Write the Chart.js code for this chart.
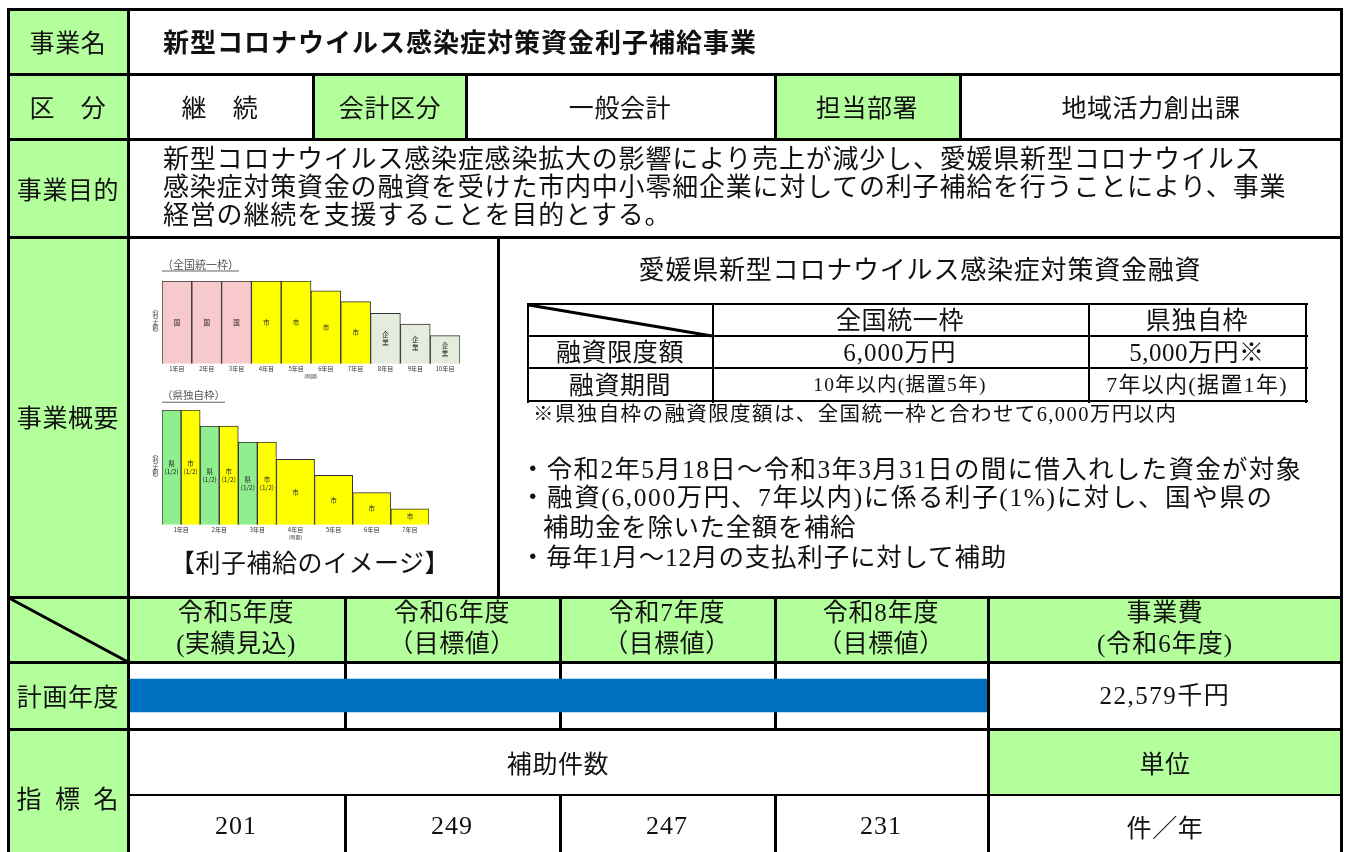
<!DOCTYPE html>
<html lang="ja">
<head>
<meta charset="utf-8">
<script src="https://cdn.jsdelivr.net/npm/chart.js@4.4.1/dist/chart.umd.min.js"></script>
<style>
html,body{margin:0;padding:0;background:#fff;}
#page{position:relative;width:1345px;height:852px;overflow:hidden;background:#fff;
  font-family:"Liberation Serif","Noto Sans CJK JP",serif;color:#111;}
.box{position:absolute;z-index:1;}
.t{position:absolute;white-space:nowrap;line-height:1;z-index:6;}
.c{transform:translate(-50%,-50%);}
.l{transform:translateY(-50%);}
.g{font-family:"Noto Sans CJK JP",sans-serif;}
.ln{position:absolute;background:#000;}
canvas{position:absolute;}
</style>
</head>
<body>
<div id="page"></div>
<script>
// ---------------- data ----------------
const projectName = '新型コロナウイルス感染症対策資金利子補給事業';
const yearLabels = ['令和5年度', '令和6年度', '令和7年度', '令和8年度'];
const yearNotes = ['(実績見込)', '（目標値）', '（目標値）', '（目標値）'];
const planFrom = '令和5年度';
const planTo = '令和8年度';
const indicatorName = '補助件数';
const indicatorValues = [201, 249, 247, 231];
const indicatorUnit = '件／年';
const projectCost = '22,579千円';

// 全国統一枠 (image)
const nationalYears = ['1年目', '2年目', '3年目', '4年目', '5年目', '6年目', '7年目', '8年目', '9年目', '10年目'];
const nationalInterest = [100, 100, 100, 100, 100, 88, 75, 61, 48, 34];
const nationalPayer = ['国', '国', '国', '市', '市', '市', '市', '企業', '企業', '企業'];

// 県独自枠 (image)
const prefYears = ['1年目', '2年目', '3年目', '4年目', '5年目', '6年目', '7年目'];
const prefInterestPref = [100, 86, 72, null, null, null, null];
const prefInterestCity = [100, 86, 72, 57, 43, 28, 14];
const prefLabelsPref = ['県\n(1/2)', '県\n(1/2)', '県\n(1/2)', '', '', '', ''];
const prefLabelsCity = ['市\n(1/2)', '市\n(1/2)', '市\n(1/2)', '市', '市', '市', '市'];

// ---------------- layout helpers ----------------
const page = document.getElementById('page');
const GREEN = '#b3ff9c';
function el(tag, cls, css) {
  const e = document.createElement(tag);
  if (cls) e.className = cls;
  Object.assign(e.style, css || {});
  page.appendChild(e);
  return e;
}
function rect(x, y, w, h, bg) {
  el('div', 'box', {left: x + 'px', top: y + 'px', width: w + 'px', height: h + 'px', background: bg});
}
function hl(x1, x2, y, w, z) {
  w = w || 3;
  el('div', 'ln', {left: (x1 - 1.5) + 'px', top: (y - w / 2) + 'px', width: (x2 - x1 + 3) + 'px', height: w + 'px', zIndex: z || 4});
}
function vl(x, y1, y2, w, z) {
  w = w || 3;
  el('div', 'ln', {left: (x - w / 2) + 'px', top: (y1 - 1.5) + 'px', width: w + 'px', height: (y2 - y1 + 3) + 'px', zIndex: z || 4});
}
function tx(str, x, y, size, o) {
  o = o || {};
  const e = el('div', 't ' + (o.align === 'l' ? 'l' : 'c') + (o.gothic ? ' g' : ''), {
    left: x + 'px', top: y + 'px', fontSize: size + 'px',
    fontWeight: o.bold ? '700' : '400',
    letterSpacing: (o.ls !== undefined ? o.ls : 0.6) + 'px',
    wordSpacing: (o.ws || 0) + 'px',
    color: o.color || '#111'
  });
  e.textContent = str;
  return e;
}

// ---------------- fills ----------------
rect(8, 9, 120, 843, GREEN);
rect(313, 74, 153, 65, GREEN);
rect(775, 74, 185, 65, GREEN);
rect(8, 597, 1333, 65, GREEN);
rect(988, 729, 353, 66, GREEN);

// ---------------- grid lines ----------------
[9, 74, 139, 237, 597, 662, 729].forEach(y => hl(8, 1341.5, y));
hl(128, 1341.5, 795, 1.3);
vl(8, 9, 852); vl(1341.5, 9, 852); vl(128, 9, 852);
[313, 466, 775, 960].forEach(x => vl(x, 74, 139));
vl(498, 237, 597);
[345, 560, 775].forEach(x => vl(x, 597, 662));
[345, 560, 775].forEach(x => vl(x, 662, 729, 3, 2));
vl(988, 597, 852);
[345, 560, 775].forEach(x => vl(x, 795, 852));

// inner loan table
[304, 336, 368, 401].forEach(y => hl(528, 1306, y, 2.5));
[528, 713, 1089, 1306].forEach(x => vl(x, 304, 401, 2.5));

// diagonals
const svgNS = 'http://www.w3.org/2000/svg';
const svg = document.createElementNS(svgNS, 'svg');
svg.setAttribute('width', '1345'); svg.setAttribute('height', '852');
Object.assign(svg.style, {position: 'absolute', left: '0', top: '0', zIndex: 5});
function sline(x1, y1, x2, y2, w) {
  const l = document.createElementNS(svgNS, 'line');
  l.setAttribute('x1', x1); l.setAttribute('y1', y1); l.setAttribute('x2', x2); l.setAttribute('y2', y2);
  l.setAttribute('stroke', '#000'); l.setAttribute('stroke-width', w);
  svg.appendChild(l);
}
sline(9, 598, 128, 662, 3);
sline(529, 305, 712, 336, 3);
page.appendChild(svg);

// ---------------- texts ----------------
tx('事業名', 68, 41, 25, {gothic: true});
tx(projectName, 163, 41, 26, {align: 'l', gothic: true, bold: true, ls: 1});
tx('区　分', 68, 106, 25, {gothic: true});
tx('継　続', 220, 106, 25, {gothic: true});
tx('会計区分', 390, 106, 25, {gothic: true});
tx('一般会計', 620, 106, 25, {gothic: true});
tx('担当部署', 867, 106, 25, {gothic: true});
tx('地域活力創出課', 1151, 106, 25, {gothic: true});

tx('事業目的', 68, 188, 25, {gothic: true});
const purposeLines = [
  '新型コロナウイルス感染症感染拡大の影響により売上が減少し、愛媛県新型コロナウイルス',
  '感染症対策資金の融資を受けた市内中小零細企業に対しての利子補給を行うことにより、事業',
  '経営の継続を支援することを目的とする。'
];
purposeLines.forEach((s, i) => tx(s, 163, 160 + i * 28, 26, {align: 'l', ls: 0.8}));

tx('事業概要', 68, 416, 25, {gothic: true});
tx('愛媛県新型コロナウイルス感染症対策資金融資', 920, 271, 26, {ls: 0.8});
tx('全国統一枠', 900, 320, 25);
tx('県独自枠', 1197, 320, 25);
tx('融資限度額', 620, 352, 25);
tx('6,000万円', 900, 352, 25, {ls: 1});
tx('5,000万円※', 1197, 352, 25, {ls: 0.5});
tx('融資期間', 620, 385, 25);
tx('10年以内(据置5年)', 900, 385, 19.5, {ls: 1.3});
tx('7年以内(据置1年)', 1197, 385, 22, {ls: 1.3});
tx('※県独自枠の融資限度額は、全国統一枠と合わせて6,000万円以内', 533, 414, 20.5, {align: 'l', ls: 1.4});
const bulletLines = [
  ['・令和2年5月18日～令和3年3月31日の間に借入れした資金が対象', 520, 470, 1.3],
  ['・融資(6,000万円、7年以内)に係る利子(1%)に対し、国や県の', 520, 498, 1.6],
  ['補助金を除いた全額を補給', 543, 528, 0.6],
  ['・毎年1月～12月の支払利子に対して補助', 520, 558, 0.8]
];
bulletLines.forEach(b => tx(b[0], b[1], b[2], 25.5, {align: 'l', ls: b[3]}));
tx('【利子補給のイメージ】', 310, 563, 25, {ls: 0.5});

// image titles
const t1 = tx('（全国統一枠）', 162, 265, 11, {align: 'l', gothic: true, color: '#555', ls: 0});
t1.style.borderBottom = '1px solid #666'; t1.style.paddingBottom = '1px';
const t2 = tx('（県独自枠）', 162, 396, 10.5, {align: 'l', gothic: true, color: '#555', ls: 0});
t2.style.borderBottom = '1px solid #666'; t2.style.paddingBottom = '1px';
['（利子額）', '（利子額）'].forEach((s, i) => {
  const e = tx(s, 155, i === 0 ? 321 : 466, 6, {gothic: true, color: '#444', ls: 0});
  e.style.writingMode = 'vertical-rl';
});

// header row
const colCenters = [236, 452, 667, 881];
yearLabels.forEach((s, i) => {
  tx(s, colCenters[i], 612, 25, {ls: 0.8});
  tx(yearNotes[i], colCenters[i], 643, 25, {ls: 0.5});
});
tx('事業費', 1165, 612, 25);
tx('(令和6年度)', 1165, 643, 25, {ls: 1});
tx('計画年度', 68, 695, 25, {gothic: true});
tx(projectCost, 1165, 695, 25, {ls: 1.5});
tx('指 標 名', 68, 797, 25, {gothic: true, ls: 1, ws: 6});
tx(indicatorName, 558, 762, 25, {gothic: true});
tx('単位', 1165, 762, 25, {gothic: true});
indicatorValues.forEach((v, i) => tx(String(v), colCenters[i], 826, 26, {ls: 1}));
tx(indicatorUnit, 1165, 826, 25, {gothic: true});

// ---------------- charts ----------------
Chart.defaults.font.family = '"Noto Sans CJK JP", sans-serif';
Chart.defaults.color = '#333';

function canvasAt(x, y, w, h, z) {
  const c = el('canvas', '', {left: x + 'px', top: y + 'px', width: w + 'px', height: h + 'px', zIndex: z || 3});
  c.width = w; c.height = h;
  return c.getContext('2d');
}

const barText = {
  id: 'barText',
  afterDatasetsDraw(chart) {
    const ctx = chart.ctx;
    chart.data.datasets.forEach((ds, di) => {
      if (!ds.inLabels) return;
      chart.getDatasetMeta(di).data.forEach((bar, i) => {
        const lab = ds.inLabels[i];
        if (!lab || ds.data[i] == null) return;
        const lines = lab.split('\n');
        const cy = (bar.y + bar.base) / 2;
        ctx.save();
        ctx.font = '6.5px "Noto Sans CJK JP"';
        ctx.fillStyle = '#222';
        ctx.textAlign = 'center';
        ctx.textBaseline = 'middle';
        lines.forEach((s, k) => ctx.fillText(s, bar.x, cy + (k - (lines.length - 1) / 2) * 8));
        ctx.restore();
      });
    });
  }
};

const payerColor = {'国': '#f8c9cc', '市': '#ffff00', '企業': '#e4ecde'};
const smallX = {
  grid: {display: false, drawTicks: false},
  border: {display: false},
  ticks: {font: {size: 6}, padding: 1, maxRotation: 0, autoSkip: false, color: '#333'},
  title: {display: true, text: '(時期)', font: {size: 5}, padding: 0, color: '#333'}
};
const baseOpts = (xs) => ({
  responsive: false, animation: false, devicePixelRatio: 1,
  layout: {padding: {left: 0, right: 0, top: 2, bottom: 0}},
  plugins: {legend: {display: false}, tooltip: {enabled: false}},
  scales: {x: xs, y: {display: false, min: 0, max: 100}}
});

new Chart(canvasAt(162, 279, 298, 100), {
  type: 'bar',
  data: {
    labels: nationalYears,
    datasets: [{
      data: nationalInterest,
      inLabels: nationalPayer.map(p => p.split('').join('\n')),
      backgroundColor: nationalPayer.map(p => payerColor[p]),
      borderColor: '#333', borderWidth: 1,
      categoryPercentage: 1, barPercentage: 1
    }]
  },
  options: baseOpts(smallX),
  plugins: [barText]
});

new Chart(canvasAt(162, 408, 267, 132), {
  type: 'bar',
  data: {
    labels: prefYears,
    datasets: [{
      data: prefInterestPref, inLabels: prefLabelsPref,
      backgroundColor: '#8fef8f', borderColor: '#333', borderWidth: 1,
      categoryPercentage: 1, barPercentage: 1, skipNull: true
    }, {
      data: prefInterestCity, inLabels: prefLabelsCity,
      backgroundColor: '#ffff00', borderColor: '#333', borderWidth: 1,
      categoryPercentage: 1, barPercentage: 1, skipNull: true
    }]
  },
  options: Object.assign(baseOpts(smallX), {skipNull: true}),
  plugins: [barText]
});

// plan-year bar
const planRange = [yearLabels.indexOf(planFrom), yearLabels.indexOf(planTo) + 1];
new Chart(canvasAt(130, 663, 857, 65, 3), {
  type: 'bar',
  data: {
    labels: ['計画'],
    datasets: [{data: [planRange], backgroundColor: '#0070c0', borderWidth: 0, barThickness: 33}]
  },
  options: {
    indexAxis: 'y', responsive: false, animation: false, devicePixelRatio: 1,
    layout: {padding: 0},
    plugins: {legend: {display: false}, tooltip: {enabled: false}},
    scales: {x: {display: false, min: 0, max: yearLabels.length}, y: {display: false}}
  }
});
</script>
</body>
</html>
